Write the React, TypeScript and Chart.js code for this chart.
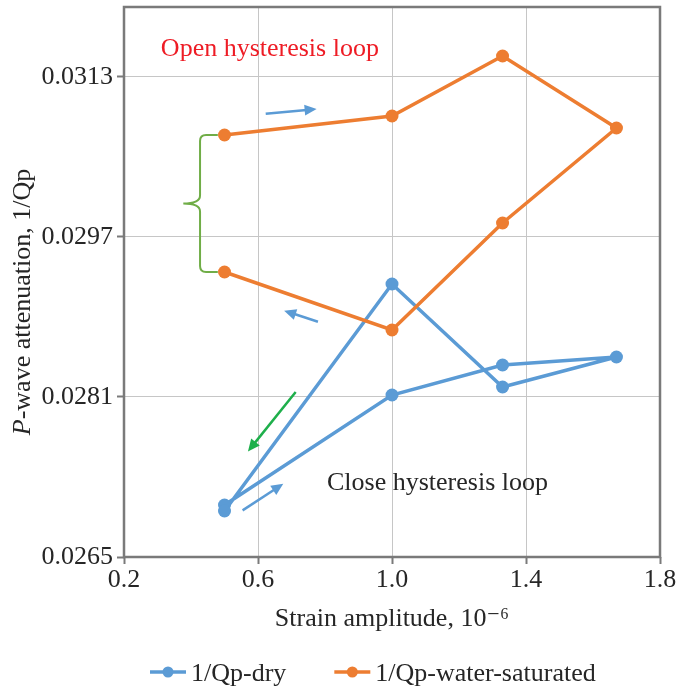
import React, { useEffect, useRef } from "react";
import { Chart, registerables } from "chart.js";

Chart.register(...registerables);

const FONT = '"Liberation Serif", "DejaVu Serif", serif';

// ---- data ----
const seriesNames = ["1/Qp-dry", "1/Qp-water-saturated"];
const seriesColors = ["#5B9BD5", "#ED7D31"];

const strainDry = [0.5, 1.0, 1.33, 1.67, 1.33, 1.0, 0.5];
const attenDry = [0.02702, 0.02812, 0.02842, 0.0285, 0.0282, 0.02923, 0.02696];

const strainWet = [0.5, 1.0, 1.33, 1.67, 1.33, 1.0, 0.5];
const attenWet = [0.03072, 0.03091, 0.03151, 0.03079, 0.02984, 0.02877, 0.02935];

const xTickValues = [0.2, 0.6, 1.0, 1.4, 1.8];
const yTickValues = [0.0265, 0.0281, 0.0297, 0.0313];

const xTitle = "Strain amplitude, 10\u207B\u2076";
const yTitleItalic = "P";
const yTitleRest = "-wave attenuation, 1/Qp";
const openLabel = "Open hysteresis loop";
const closeLabel = "Close hysteresis loop";

// annotation anchors in data units
const openLabelAt = [0.31, 0.031513];
const closeLabelAt = [0.806, 0.027173];
const arrowList = [
  { from: [0.623, 0.030933], to: [0.775, 0.03098], color: "#5B9BD5" },
  { from: [0.779, 0.028853], to: [0.678, 0.028963], color: "#5B9BD5" },
  { from: [0.554, 0.026966], to: [0.6755, 0.027233], color: "#5B9BD5" },
  { from: [0.7125, 0.02815], to: [0.57, 0.027556], color: "#1EAF4B" },
];
const braceX = { end: 0.48, stem: 0.427, tip: 0.377 };
const braceY = { top: 0.03072, bottom: 0.02935 };
const yTitleCenter = 0.02905;

const annotationPlugin = {
  id: "annotations",
  beforeDatasetsDraw(chart: any) {
    const { ctx, chartArea: a } = chart;
    ctx.save();
    ctx.strokeStyle = "#7a7a7a";
    ctx.lineWidth = 2.5;
    ctx.strokeRect(a.left, a.top, a.right - a.left, a.bottom - a.top);
    ctx.restore();
  },
  afterDatasetsDraw(chart: any) {
    const { ctx } = chart;
    const xs = chart.scales.x;
    const ys = chart.scales.y;
    const px = (v: number) => xs.getPixelForValue(v);
    const py = (v: number) => ys.getPixelForValue(v);
    ctx.save();
    // texts
    ctx.font = `26px ${FONT}`;
    ctx.textBaseline = "alphabetic";
    ctx.textAlign = "left";
    ctx.fillStyle = "#EE1C25";
    ctx.fillText(openLabel, px(openLabelAt[0]), py(openLabelAt[1]));
    ctx.fillStyle = "#262626";
    ctx.fillText(closeLabel, px(closeLabelAt[0]), py(closeLabelAt[1]));
    // arrows
    for (const ar of arrowList) {
      const x1 = px(ar.from[0]), y1 = py(ar.from[1]);
      const x2 = px(ar.to[0]), y2 = py(ar.to[1]);
      const ang = Math.atan2(y2 - y1, x2 - x1);
      const hl = 12, hw = 5.5;
      const bx = x2 - hl * Math.cos(ang), by = y2 - hl * Math.sin(ang);
      ctx.strokeStyle = ar.color;
      ctx.fillStyle = ar.color;
      ctx.lineWidth = 2.5;
      ctx.beginPath();
      ctx.moveTo(x1, y1);
      ctx.lineTo(bx + 2 * Math.cos(ang), by + 2 * Math.sin(ang));
      ctx.stroke();
      ctx.beginPath();
      ctx.moveTo(x2, y2);
      ctx.lineTo(bx - hw * Math.sin(ang), by + hw * Math.cos(ang));
      ctx.lineTo(bx + hw * Math.sin(ang), by - hw * Math.cos(ang));
      ctx.closePath();
      ctx.fill();
    }
    // brace
    const xe = px(braceX.end), xv = px(braceX.stem), xt = px(braceX.tip);
    const y1 = py(braceY.top), y2 = py(braceY.bottom), ym = (y1 + y2) / 2;
    const r = 6;
    ctx.strokeStyle = "#70AD47";
    ctx.lineWidth = 2;
    ctx.beginPath();
    ctx.moveTo(xe, y1);
    ctx.lineTo(xv + r, y1);
    ctx.quadraticCurveTo(xv, y1, xv, y1 + r);
    ctx.lineTo(xv, ym - 8);
    ctx.quadraticCurveTo(xv, ym, xt, ym);
    ctx.quadraticCurveTo(xv, ym, xv, ym + 8);
    ctx.lineTo(xv, y2 - r);
    ctx.quadraticCurveTo(xv, y2, xv + r, y2);
    ctx.lineTo(xe, y2);
    ctx.stroke();
    ctx.restore();
  },
  afterDraw(chart: any) {
    const { ctx, chartArea: a } = chart;
    ctx.save();
    // y axis title with italic P
    ctx.font = `26px ${FONT}`;
    const wRest = ctx.measureText(yTitleRest).width;
    ctx.font = `italic 26px ${FONT}`;
    const wP = ctx.measureText(yTitleItalic).width;
    const total = wP + wRest;
    const cy = chart.scales.y.getPixelForValue(yTitleCenter);
    ctx.translate(30, cy);
    ctx.rotate(-Math.PI / 2);
    ctx.fillStyle = "#262626";
    ctx.textBaseline = "alphabetic";
    ctx.textAlign = "left";
    ctx.fillText(yTitleItalic, -total / 2, 0);
    ctx.font = `26px ${FONT}`;
    ctx.fillText(yTitleRest, -total / 2 + wP, 0);
    ctx.restore();

    // legend
    ctx.save();
    ctx.font = `26px ${FONT}`;
    ctx.textBaseline = "alphabetic";
    ctx.textAlign = "left";
    const ly = a.bottom + 115;
    let x = a.left + 26;
    for (let i = 0; i < seriesNames.length; i++) {
      ctx.strokeStyle = seriesColors[i];
      ctx.fillStyle = seriesColors[i];
      ctx.lineWidth = 3.5;
      ctx.beginPath();
      ctx.moveTo(x, ly);
      ctx.lineTo(x + 36, ly);
      ctx.stroke();
      ctx.beginPath();
      ctx.arc(x + 18, ly, 5.5, 0, Math.PI * 2);
      ctx.fill();
      ctx.fillStyle = "#262626";
      ctx.fillText(seriesNames[i], x + 41, ly + 9);
      x = x + 41 + ctx.measureText(seriesNames[i]).width + 48;
    }
    ctx.restore();
  },
};

export default function App() {
  const ref = useRef<HTMLCanvasElement | null>(null);
  useEffect(() => {
    if (!ref.current) return;
    const font = { family: FONT, size: 26 };
    const chart = new Chart(ref.current, {
      type: "scatter",
      data: {
        datasets: [
          {
            label: seriesNames[0],
            data: strainDry.map((v, i) => ({ x: v, y: attenDry[i] })),
            borderColor: seriesColors[0],
            backgroundColor: seriesColors[0],
            showLine: true,
            borderWidth: 3.5,
            pointRadius: 6.5,
            pointBorderWidth: 0,
            order: 1,
          },
          {
            label: seriesNames[1],
            data: strainWet.map((v, i) => ({ x: v, y: attenWet[i] })),
            borderColor: seriesColors[1],
            backgroundColor: seriesColors[1],
            showLine: true,
            borderWidth: 3.5,
            pointRadius: 6.5,
            pointBorderWidth: 0,
            order: 0,
          },
        ],
      },
      options: {
        animation: false,
        responsive: true,
        maintainAspectRatio: false,
        layout: { padding: { top: 7, right: 23, left: 0, bottom: 0 } },
        plugins: { legend: { display: false }, tooltip: { enabled: false } },
        scales: {
          x: {
            type: "linear",
            min: 0.2,
            max: 1.8,
            afterBuildTicks: (s: any) => {
              s.ticks = xTickValues.map((v) => ({ value: v }));
            },
            afterFit: (s: any) => {
              s.height = 132;
            },
            border: { display: false },
            grid: { color: "#c6c6c6", lineWidth: 1, tickColor: "#7a7a7a", tickLength: 7, tickWidth: 2 },
            ticks: { font, color: "#262626", padding: 1, maxRotation: 0, callback: (v: any) => Number(v).toFixed(1) },
            title: { display: true, text: xTitle, font, color: "#262626", padding: { top: 0, bottom: 54 } },
          },
          y: {
            type: "linear",
            min: 0.0265,
            max: 0.032,
            afterBuildTicks: (s: any) => {
              s.ticks = yTickValues.map((v) => ({ value: v }));
            },
            afterFit: (s: any) => {
              s.width = 124;
              s.paddingTop = 0;
              s.paddingBottom = 0;
            },
            border: { display: false },
            grid: { color: "#c6c6c6", lineWidth: 1, tickColor: "#7a7a7a", tickLength: 7, tickWidth: 2 },
            ticks: { font, color: "#262626", padding: 4, callback: (v: any) => Number(v).toFixed(4) },
            title: { display: false },
          },
        },
      },
      plugins: [annotationPlugin],
    });
    return () => chart.destroy();
  }, []);
  return (
    <div style={{ position: "absolute", left: 0, top: 0, width: 683, height: 689 }}>
      <canvas ref={ref} />
    </div>
  );
}
